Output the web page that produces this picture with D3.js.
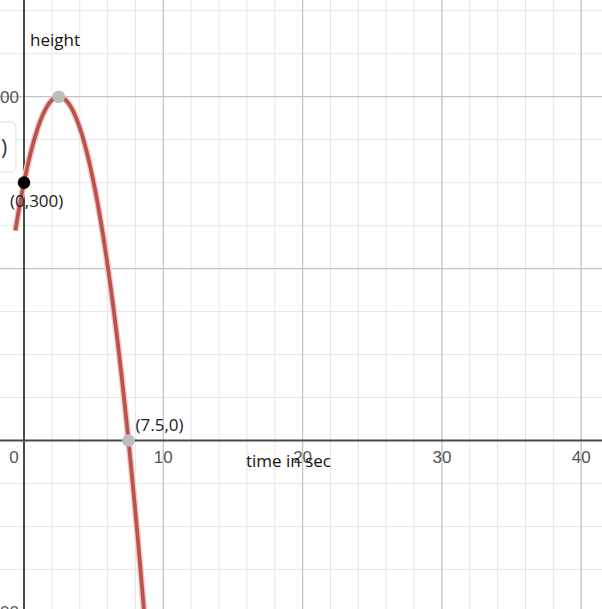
<!DOCTYPE html>
<html>
<head>
<meta charset="utf-8">
<script src="https://cdn.jsdelivr.net/npm/d3@7"></script>
<style>
  body { margin: 0; background: #fff; overflow: hidden; }
  svg { display: block; }
</style>
</head>
<body>
<svg id="canvas" width="602" height="609"></svg>
<script>
// ###############
// data
// ###############
var xTickLabels = [0, 10, 20, 30, 40];
var yTickLabels = [400, -200];
var xMajor = [0, 10, 20, 30, 40];
var yMajor = [-200, 0, 200, 400];
var xMinorStep = 2;
var yMinorStep = 50;
// h(t) = a t^2 + b t + c  (passes through (0,300), (2.5,400), (7.5,0))
var coefA = -16, coefB = 80, coefC = 300;
var tStart = -0.62, tEnd = 9.2;
var points = [
  { t: 0,   h: 300, fill: "#000",    label: "(0,300)", dx: -14, dy: 24 },
  { t: 2.5, h: 400, fill: "#bdbdbd", label: null },
  { t: 7.5, h: 0,   fill: "#bdbdbd", label: "(7.5,0)", dx: 7, dy: -10 }
];

var width = 602, height = 609;
var svg = d3.select("#canvas");

// scales: t=0 at x=24, 13.93px per sec ; h=0 at y=440.5, 0.8595px per unit
var x = d3.scaleLinear().domain([0, 40]).range([24, 24 + 40 * 13.93]);
var y = d3.scaleLinear().domain([0, 400]).range([440.5, 440.5 - 400 * 0.8595]);

var xMin = x.invert(0), xMax = x.invert(width);
var yMin = y.invert(height), yMax = y.invert(0);

// minor grid
var g = svg.append("g").attr("class", "grid");
d3.range(Math.ceil(xMin / xMinorStep) * xMinorStep, xMax, xMinorStep).forEach(function(v) {
  g.append("line").attr("x1", x(v)).attr("x2", x(v)).attr("y1", 0).attr("y2", height)
    .attr("stroke", "#e6e6e6").attr("stroke-width", 1);
});
d3.range(Math.ceil(yMin / yMinorStep) * yMinorStep, yMax, yMinorStep).forEach(function(v) {
  g.append("line").attr("y1", y(v)).attr("y2", y(v)).attr("x1", 0).attr("x2", width)
    .attr("stroke", "#e6e6e6").attr("stroke-width", 1);
});
// major grid
xMajor.forEach(function(v) {
  g.append("line").attr("x1", x(v)).attr("x2", x(v)).attr("y1", 0).attr("y2", height)
    .attr("stroke", "#c4c4c4").attr("stroke-width", 1.2);
});
yMajor.forEach(function(v) {
  g.append("line").attr("y1", y(v)).attr("y2", y(v)).attr("x1", 0).attr("x2", width)
    .attr("stroke", "#c4c4c4").attr("stroke-width", 1.2);
});

// axes
svg.append("line").attr("x1", 0).attr("x2", width).attr("y1", y(0)).attr("y2", y(0))
  .attr("stroke", "#4a4a4a").attr("stroke-width", 2);
svg.append("line").attr("x1", x(0)).attr("x2", x(0)).attr("y1", 0).attr("y2", height)
  .attr("stroke", "#4a4a4a").attr("stroke-width", 2);

// tick labels
var ticks = svg.append("g").attr("font-family", "Liberation Sans, Arial, sans-serif")
  .attr("font-size", 17).attr("fill", "#555");
xTickLabels.forEach(function(v) {
  ticks.append("text")
    .attr("x", v === 0 ? x(v) - 10 : x(v))
    .attr("y", y(0) + 22)
    .attr("text-anchor", "middle")
    .text(v);
});
yTickLabels.forEach(function(v) {
  ticks.append("text")
    .attr("x", x(0) - 5)
    .attr("y", y(v) + 6)
    .attr("text-anchor", "end")
    .text(v);
});

// the partial label box at the left edge
svg.append("rect").attr("x", -40).attr("y", 122).attr("width", 56).attr("height", 50)
  .attr("rx", 5).attr("fill", "#fff").attr("stroke", "#e0e0e0").attr("stroke-width", 1);
svg.append("text").attr("x", 1).attr("y", 155)
  .attr("font-family", "Open Sans, sans-serif").attr("font-size", 21).attr("fill", "#333")
  .text(")");

// curve
var curveData = d3.range(tStart, tEnd, 0.02).map(function(t) {
  return { t: t, h: coefA * t * t + coefB * t + coefC };
});
var line = d3.line().x(function(d) { return x(d.t); }).y(function(d) { return y(d.h); });
svg.append("path").datum(curveData).attr("d", line).attr("fill", "none")
  .attr("stroke", "#f2c9c7").attr("stroke-width", 6.5).attr("stroke-linecap", "butt");
svg.append("path").datum(curveData).attr("d", line).attr("fill", "none")
  .attr("stroke", "#b9534c").attr("stroke-width", 3.8).attr("stroke-linecap", "butt");

// points + labels
points.forEach(function(p) {
  svg.append("circle").attr("cx", x(p.t)).attr("cy", y(p.h)).attr("r", 6.3).attr("fill", p.fill);
  if (p.label) {
    svg.append("text").attr("x", x(p.t) + p.dx).attr("y", y(p.h) + p.dy)
      .attr("font-family", "Open Sans, sans-serif").attr("font-size", 17).attr("fill", "#222")
      .text(p.label);
  }
});

// axis titles
var titles = svg.append("g").attr("font-family", "Open Sans, sans-serif")
  .attr("font-size", 17).attr("fill", "#111");
titles.append("text").attr("x", 30).attr("y", 46).text("height");
titles.append("text").attr("x", 246).attr("y", 467).text("time in sec");
</script>
</body>
</html>
